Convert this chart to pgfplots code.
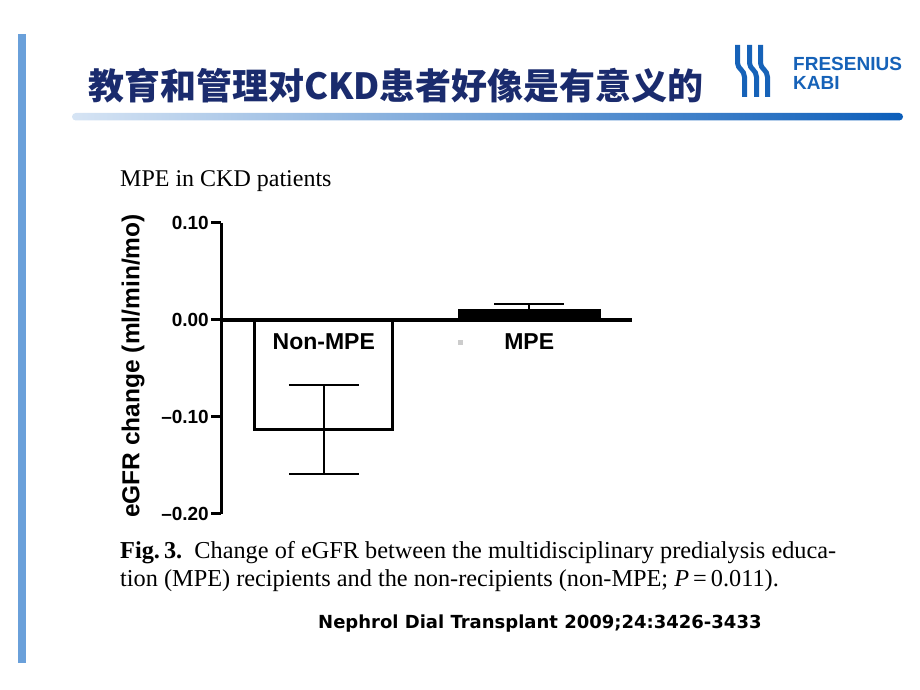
\documentclass[border=0pt]{standalone}
\usepackage{pgfplots}
\pgfplotsset{compat=1.18}
\usepackage{fontspec}
\setmainfont{Liberation Serif}
\newfontfamily\lsans{Liberation Sans}
\newfontfamily\cjk{Noto Sans CJK SC}
\newfontfamily\dejavu{DejaVu Sans}
\definecolor{navy}{RGB}{26,43,109}
\definecolor{kabi}{RGB}{22,98,184}
\definecolor{barblue}{RGB}{106,160,218}
\definecolor{gradL}{RGB}{214,228,244}
\definecolor{gradR}{RGB}{12,94,186}
\begin{document}
\begin{tikzpicture}[x=1pt,y=1pt]
\path[use as bounding box] (0,0) rectangle (920,690);
% left bar
\fill[barblue] (18.3,27) rectangle (25.7,656);
% gradient rule
\shade[left color=gradL, right color=gradR, rounded corners=3.7pt] (72,569.5) rectangle (903,577);
% title
\node[anchor=base west, inner sep=0pt, text=navy] at (88,590) {\cjk\bfseries\fontsize{36}{40}\selectfont 教育和管理对CKD患者好像是有意义的};
% logo
\foreach \xo in {737.5,749.5,760.5}{
  \draw[kabi, line width=5pt] (\xo,645) -- (\xo,627) .. controls (\xo,621) and (\xo+7,620) .. (\xo+7,613) -- (\xo+7,593);
}
\node[anchor=base west, inner sep=0pt, text=kabi] at (793,619) {\lsans\bfseries\fontsize{19}{24}\selectfont FRESENIUS};
\node[anchor=base west, inner sep=0pt, text=kabi] at (793,600) {\lsans\bfseries\fontsize{19}{24}\selectfont KABI};
% chart title
\node[anchor=base west, inner sep=0pt] at (120,503) {\fontsize{24}{27}\selectfont MPE in CKD patients};
\begin{axis}[
  at={(221pt,176pt)}, anchor=south west, scale only axis,
  width=411pt, height=291.3pt,
  xmin=0.5, xmax=2.5, ymin=-0.2, ymax=0.1,
  hide x axis, axis y line*=left,
  y axis line style={line width=3pt},
  ytick={-0.2,-0.1,0,0.1},
  yticklabels={–0.20,–0.10,0.00,0.10},
  yticklabel style={font=\lsans\bfseries\fontsize{19}{20}\selectfont, inner sep=2pt},
  tick align=outside, major tick length=10pt,
  ytick style={line width=3pt, black},
  clip=false,
]
\addplot[ybar, bar width=0.672, bar shift=0pt, fill=white, draw=black, line width=3.2pt,
  error bars/.cd, y dir=both, y explicit, error mark=|,
  error bar style={line width=2.2pt, black},
  error mark options={line width=2.2pt, mark size=35pt, black}]
  coordinates {(1,-0.113) +- (0,0.046)};
\addplot[ybar, bar width=0.682, bar shift=0pt, fill=black, draw=black, line width=3.2pt,
  error bars/.cd, y dir=both, y explicit, error mark=|,
  error bar style={line width=2.2pt, black},
  error mark options={line width=2.2pt, mark size=35pt, black}]
  coordinates {(2,0.009) +- (0,0.0075)};
\addplot[black, line width=3.5pt, forget plot] coordinates {(0.5,0) (2.5,0)};
\node[font=\lsans\bfseries\fontsize{23}{24}\selectfont] at (axis cs:1,-0.0225) {Non-MPE};
\node[font=\lsans\bfseries\fontsize{23}{24}\selectfont] at (axis cs:2,-0.0225) {MPE};
\node[fill=black!20, minimum size=5pt, inner sep=0pt] at (axis cs:1.667,-0.0235) {};
\end{axis}
\node[rotate=90, font=\lsans\bfseries\fontsize{24.5}{26}\selectfont] at (133,324) {eGFR change (ml/min/mo)};
% caption
\node[anchor=base west, inner sep=0pt] at (120,131) {\fontsize{24.3}{28}\selectfont\textbf{Fig.\,3.}\ \ Change of eGFR between the multidisciplinary predialysis educa-};
\node[anchor=base west, inner sep=0pt] at (120,103) {\fontsize{24.3}{28}\selectfont tion (MPE) recipients and the non-recipients (non-MPE; \textit{P}\,=\,0.011).};
% citation
\node[anchor=base west, inner sep=0pt] at (318,61) {\dejavu\bfseries\fontsize{18}{20}\selectfont Nephrol Dial Transplant 2009;24:3426-3433};
\end{tikzpicture}
\end{document}
